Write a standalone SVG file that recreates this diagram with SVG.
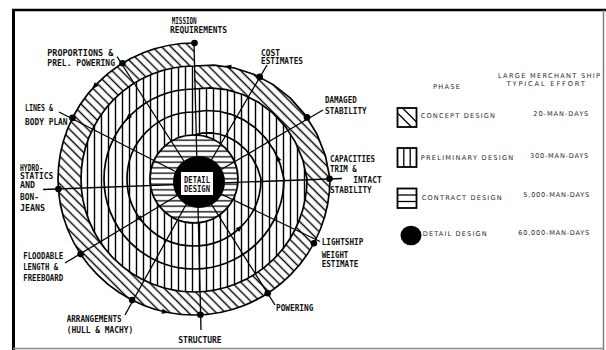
<svg xmlns="http://www.w3.org/2000/svg" xmlns:xlink="http://www.w3.org/1999/xlink" width="606" height="350" viewBox="0 0 606 350">
<style>
.lb{font-family:"DejaVu Sans Mono","Liberation Mono",monospace;font-weight:bold;font-size:8px;fill:#111}
.lg{font-family:"DejaVu Sans","Liberation Sans",sans-serif;font-size:6.6px;fill:#2a2a2a}
.ln{fill:none;stroke:#000;stroke-width:1.3}
.sp{fill:none;stroke:#000;stroke-width:1.7}
.dot{fill:#000}
.box{fill:#fff;stroke:#000;stroke-width:1.8}
</style>
<defs>
<pattern id="pv" width="7" height="7" patternUnits="userSpaceOnUse"><rect width="7" height="7" fill="#fff"/><line x1="3.5" y1="0" x2="3.5" y2="7" stroke="#000" stroke-width="1.4"/></pattern>
<pattern id="ph" width="6" height="5.5" patternUnits="userSpaceOnUse"><rect width="6" height="5.5" fill="#fff"/><line x1="0" y1="2.75" x2="6" y2="2.75" stroke="#000" stroke-width="1.3"/></pattern>
<pattern id="pd" width="6.5" height="6.5" patternUnits="userSpaceOnUse" patternTransform="rotate(-45)"><rect width="6.5" height="6.5" fill="#fff"/><line x1="3.25" y1="0" x2="3.25" y2="6.5" stroke="#000" stroke-width="1.4"/></pattern>
<path id="ah" d="M4,0 L-3,-2.5 L-3,2.5 Z" fill="#000"/>
</defs>
<rect width="606" height="350" fill="#fff"/>
<g id="frame">
<line x1="12" y1="10" x2="606" y2="10" stroke="#000" stroke-width="2.6"/>
<line x1="13.5" y1="9" x2="13.5" y2="350" stroke="#000" stroke-width="3"/>
<line x1="603.5" y1="10" x2="603.5" y2="350" stroke="#777" stroke-width="1.4"/>
<line x1="13" y1="348.5" x2="604" y2="348.5" stroke="#888" stroke-width="1.4"/>
</g>
<g id="spiral">
<path id="prelim-region" fill="url(#pv)" d="M194,43 A136,136 0 1 0 330,179 L325.41,155.83 L317,134.23 L305.14,114.83 L290.35,98.15 L273.21,84.61 L254.33,74.5 L234.39,68.01 L214.06,65.2 L194,66 Z"/>
<path id="concept-band" fill="url(#pd)" d="M194,43 A136,136 0 1 0 330,179 L325.41,155.83 L317,134.23 L305.14,114.83 L290.35,98.15 L273.21,84.61 L254.33,74.5 L234.39,68.01 L214.06,65.2 L194,66 L194,89 L210.07,87.85 L226.53,89.62 L242.83,94.42 L258.42,102.23 L272.73,112.93 L285.22,126.33 L295.38,142.1 L302.76,159.83 L307,179 A113,113 0 1 1 194,66 Z"/>
<circle id="contract-region" cx="194" cy="179" r="44" fill="url(#ph)"/>
<path class="sp" d="M194,43 A136,136 0 1 0 330,179 L325.41,155.83 L317,134.23 L305.14,114.83 L290.35,98.15 L273.21,84.61 L254.33,74.5 L234.39,68.01 L214.06,65.2 L194,66 A113,113 0 1 0 307,179 L302.76,159.83 L295.38,142.1 L285.22,126.33 L272.73,112.93 L258.42,102.23 L242.83,94.42 L226.53,89.62 L210.07,87.85 L194,89 A90,90 0 1 0 284,179 L280.11,163.82 L273.77,149.97 L265.3,137.83 L255.11,127.72 L243.64,119.85 L231.33,114.34 L218.66,111.24 L206.07,110.5 L194,112 A67,67 0 1 0 261,179 L257.46,167.81 L252.16,157.83 L245.38,149.33 L237.49,142.5 L228.85,137.47 L219.83,134.26 L210.8,132.85 L202.08,133.15 L194,135"/>
<circle class="sp" cx="194" cy="179" r="44"/>
<use xlink:href="#ah" transform="translate(94.6,86.2) rotate(133)"/>
<use xlink:href="#ah" transform="translate(128.2,117.6) rotate(133)"/>
<use xlink:href="#ah" transform="translate(140.3,219.1) rotate(53)"/>
<use xlink:href="#ah" transform="translate(165,311.9) rotate(12)"/>
<use xlink:href="#ah" transform="translate(228.3,66.8) rotate(-170)"/>
<use xlink:href="#ah" transform="translate(277.8,158.1) rotate(-113)"/>
<use xlink:href="#ah" transform="translate(239.6,228.1) rotate(-43)"/>
</g>
<g id="connectors">
<line class="ln" x1="194" y1="43" x2="201" y2="330"/>
<line class="ln" x1="43" y1="189.5" x2="342" y2="178.5"/>
<line class="ln" x1="117" y1="56.5" x2="198" y2="183"/>
<line class="ln" x1="59" y1="112" x2="198" y2="183"/>
<line class="ln" x1="65" y1="263" x2="198" y2="183"/>
<line class="ln" x1="125" y1="315" x2="198" y2="183"/>
<line class="ln" x1="275" y1="305" x2="198" y2="183"/>
<line class="ln" x1="320" y1="241.5" x2="198" y2="183"/>
<line class="ln" x1="323" y1="110" x2="198" y2="183"/>
<line class="ln" x1="267" y1="65" x2="198" y2="183"/>
</g>
<g id="detail-design">
<circle cx="199" cy="182" r="26" fill="#000"/>
<rect x="181" y="172" width="32" height="23" fill="#fff"/>
<text class="lb" x="184" y="183" font-size="7" textLength="26" lengthAdjust="spacingAndGlyphs">DETAIL</text>
<text class="lb" x="184" y="192.3" font-size="7" textLength="26" lengthAdjust="spacingAndGlyphs">DESIGN</text>
</g>
<g id="mission"><circle class="dot" cx="194.5" cy="43" r="3.3"/><text class="lb" x="171.7" y="23.6" textLength="25" lengthAdjust="spacingAndGlyphs">MISSION</text><text class="lb" x="170" y="32.9" textLength="57" lengthAdjust="spacingAndGlyphs">REQUIREMENTS</text></g>
<g id="cost"><circle class="dot" cx="259.7" cy="76.9" r="3.3"/><text class="lb" x="261" y="55.6" textLength="19" lengthAdjust="spacingAndGlyphs">COST</text><text class="lb" x="261" y="63.9" textLength="42" lengthAdjust="spacingAndGlyphs">ESTIMATES</text></g>
<g id="damaged"><circle class="dot" cx="307" cy="117.4" r="3.3"/><text class="lb" x="325" y="102.9" textLength="31.7" lengthAdjust="spacingAndGlyphs">DAMAGED</text><text class="lb" x="325" y="113.9" textLength="41.7" lengthAdjust="spacingAndGlyphs">STABILITY</text></g>
<g id="capacities"><circle class="dot" cx="329.5" cy="178.7" r="3.3"/><text class="lb" x="330" y="161.9" textLength="45" lengthAdjust="spacingAndGlyphs">CAPACITIES</text><text class="lb" x="330" y="171.9" textLength="26.7" lengthAdjust="spacingAndGlyphs">TRIM &amp;</text><text class="lb" x="353.3" y="182.9" textLength="28.4" lengthAdjust="spacingAndGlyphs">INTACT</text><text class="lb" x="330" y="192.9" textLength="41.7" lengthAdjust="spacingAndGlyphs">STABILITY</text></g>
<g id="lightship"><circle class="dot" cx="313.9" cy="243.3" r="3.3"/><text class="lb" x="321.7" y="244.6" textLength="41.6" lengthAdjust="spacingAndGlyphs">LIGHTSHIP</text><text class="lb" x="321.7" y="257.9" textLength="26.6" lengthAdjust="spacingAndGlyphs">WEIGHT</text><text class="lb" x="321.7" y="267.2" textLength="36.6" lengthAdjust="spacingAndGlyphs">ESTIMATE</text></g>
<g id="powering"><circle class="dot" cx="267.7" cy="293.3" r="3.3"/><text class="lb" x="276" y="311.2" textLength="37.3" lengthAdjust="spacingAndGlyphs">POWERING</text></g>
<g id="structure"><circle class="dot" cx="200.4" cy="314.8" r="3.3"/><text class="lb" x="178.3" y="342.9" textLength="43.4" lengthAdjust="spacingAndGlyphs">STRUCTURE</text></g>
<g id="arrangements"><circle class="dot" cx="132.1" cy="300.1" r="3.3"/><text class="lb" x="66.7" y="322.2" textLength="55" lengthAdjust="spacingAndGlyphs">ARRANGEMENTS</text><text class="lb" x="66.7" y="332.9" textLength="66.6" lengthAdjust="spacingAndGlyphs">(HULL &amp; MACHY)</text></g>
<g id="floodable"><circle class="dot" cx="80.6" cy="254.1" r="3.3"/><text class="lb" x="23.2" y="258.9" textLength="40" lengthAdjust="spacingAndGlyphs">FLOODABLE</text><text class="lb" x="23.2" y="269.6" textLength="34.8" lengthAdjust="spacingAndGlyphs">LENGTH &amp;</text><text class="lb" x="23.2" y="281.2" textLength="40" lengthAdjust="spacingAndGlyphs">FREEBOARD</text></g>
<g id="hydrostatics"><circle class="dot" cx="58.4" cy="189" r="3.3"/><text class="lb" x="20" y="170.6" textLength="23" lengthAdjust="spacingAndGlyphs">HYDRO-</text><text class="lb" x="20" y="178.8" textLength="33.3" lengthAdjust="spacingAndGlyphs">STATICS</text><text class="lb" x="20" y="187.6" textLength="15" lengthAdjust="spacingAndGlyphs">AND</text><text class="lb" x="20" y="200.4" textLength="19" lengthAdjust="spacingAndGlyphs">BON-</text><text class="lb" x="20" y="211.4" textLength="25" lengthAdjust="spacingAndGlyphs">JEANS</text></g>
<g id="lines"><circle class="dot" cx="72.5" cy="117.9" r="3.3"/><text class="lb" x="25" y="110.9" textLength="28" lengthAdjust="spacingAndGlyphs">LINES &amp;</text><text class="lb" x="25" y="124.6" textLength="42.6" lengthAdjust="spacingAndGlyphs">BODY PLAN</text></g>
<g id="proportions"><circle class="dot" cx="122.5" cy="63.3" r="3.3"/><text class="lb" x="47.3" y="56.2" textLength="66" lengthAdjust="spacingAndGlyphs">PROPORTIONS &amp;</text><text class="lb" x="47.3" y="66.2" textLength="67.7" lengthAdjust="spacingAndGlyphs">PREL. POWERING</text></g>
<g id="legend">
<text class="lg" x="433" y="88.8" textLength="27">PHASE</text>
<text class="lg" x="498" y="78" textLength="102">LARGE MERCHANT SHIP</text>
<text class="lg" x="506.7" y="85.6" textLength="78">TYPICAL EFFORT</text>
<g id="legend-concept"><rect class="box" x="397.5" y="108" width="19" height="19"/><line class="ln" x1="397.5" y1="113" x2="411.5" y2="127"/><line class="ln" x1="402.5" y1="108" x2="416.5" y2="122"/><text class="lg" x="420.7" y="118.4" textLength="74.3">CONCEPT DESIGN</text><text class="lg" x="533.3" y="115.7" textLength="55">20-MAN-DAYS</text></g>
<g id="legend-prelim"><rect class="box" x="397.5" y="148" width="19" height="19"/><line class="ln" x1="403.8" y1="148" x2="403.8" y2="167"/><line class="ln" x1="410.2" y1="148" x2="410.2" y2="167"/><text class="lg" x="420.7" y="160.1" textLength="92.6">PRELIMINARY DESIGN</text><text class="lg" x="530" y="158.1" textLength="58.3">300-MAN-DAYS</text></g>
<g id="legend-contract"><rect class="box" x="397.5" y="188.5" width="19" height="19.5"/><line class="ln" x1="397.5" y1="195" x2="416.5" y2="195"/><line class="ln" x1="397.5" y1="201.5" x2="416.5" y2="201.5"/><text class="lg" x="421.7" y="199.7" textLength="80">CONTRACT DESIGN</text><text class="lg" x="523.3" y="197.4" textLength="66">5,000-MAN-DAYS</text></g>
<g id="legend-detail"><ellipse cx="411" cy="235.5" rx="10.5" ry="9.8" fill="#000"/><text class="lg" x="422.7" y="236.4" textLength="64">DETAIL DESIGN</text><text class="lg" x="518.3" y="235.1" textLength="71">60,000-MAN-DAYS</text></g>
</g>
</svg>
